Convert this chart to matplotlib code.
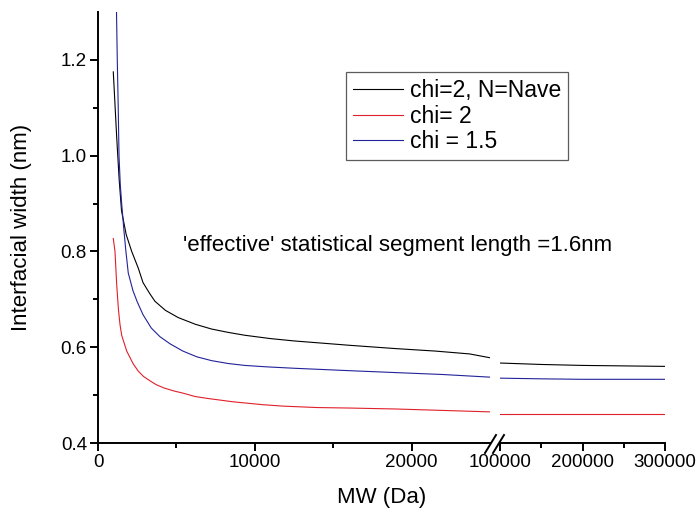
import matplotlib
matplotlib.use("Agg")
import matplotlib.pyplot as plt
from matplotlib.lines import Line2D

plt.rcParams['font.family'] = ['Liberation Sans', 'DejaVu Sans']

# Data (MW in Da, interfacial width in nm)
mw_nave_low = [975, 1190, 1350, 1500, 1800, 2150, 2570, 2870, 3300, 3630, 4300, 5110,
               6200, 7240, 8300, 9360, 11000, 12550, 14500, 16050, 19040, 21500, 23700, 25000]
w_nave_low = [1.175, 1.04, 0.95, 0.885, 0.835, 0.80, 0.765, 0.735, 0.712, 0.696, 0.677, 0.662,
              0.648, 0.638, 0.631, 0.625, 0.618, 0.613, 0.608, 0.604, 0.597, 0.592, 0.586, 0.578]

mw_chi2_low = [975, 1083, 1190, 1300, 1400, 1510, 1830, 2250, 2570, 2900, 3310, 3700, 4200,
               4800, 5430, 6200, 7000, 8620, 10500, 11800, 14000, 16050, 19000, 22000, 25000]
w_chi2_low = [0.827, 0.80, 0.732, 0.68, 0.648, 0.625, 0.592, 0.565, 0.550, 0.539, 0.530, 0.522,
              0.515, 0.509, 0.504, 0.497, 0.493, 0.486, 0.480, 0.477, 0.474, 0.473, 0.471,
              0.468, 0.465]

mw_chi15_low = [1180, 1230, 1290, 1340, 1420, 1510, 1650, 1780, 1930, 2230, 2500, 2870, 3400,
                3950, 4600, 5410, 6300, 7240, 8300, 9360, 10760, 12550, 16050, 19000, 22000,
                25000]
w_chi15_low = [1.30, 1.20, 1.10, 1.00, 0.94, 0.90, 0.845, 0.80, 0.755, 0.718, 0.695, 0.668,
               0.640, 0.622, 0.607, 0.592, 0.580, 0.572, 0.566, 0.562, 0.559, 0.556, 0.551,
               0.547, 0.543, 0.5375]

mw_high = [100000, 150000, 200000, 250000, 300000]
w_nave_high = [0.567, 0.564, 0.562, 0.561, 0.560]
w_chi2_high = [0.4615, 0.4615, 0.4615, 0.4615, 0.4615]
w_chi15_high = [0.5354, 0.534, 0.533, 0.533, 0.533]

labels = ["chi=2, N=Nave", "chi= 2", "chi = 1.5"]
colors = ["black", "#e0202a", "#22229a"]

fig = plt.figure(figsize=(6.96, 5.16), dpi=100)
W, H = 696.0, 516.0
bottom = (H - 443) / H
height = (443 - 12) / H
ax1 = fig.add_axes([98 / W, bottom, (490 - 98) / W, height])
ax2 = fig.add_axes([500 / W, bottom, (665 - 500) / W, height])

lw = 0.8
ax1.plot(mw_nave_low, w_nave_low, color=colors[0], lw=lw)
ax1.plot(mw_chi2_low, w_chi2_low, color=colors[1], lw=lw)
ax1.plot(mw_chi15_low, w_chi15_low, color=colors[2], lw=lw)
ax2.plot(mw_high, w_nave_high, color=colors[0], lw=lw)
ax2.plot(mw_high, w_chi2_high, color=colors[1], lw=lw)
ax2.plot(mw_high, w_chi15_high, color=colors[2], lw=lw)

for ax in (ax1, ax2):
    ax.set_ylim(0.4, 1.3)
    ax.spines['top'].set_visible(False)
    ax.spines['right'].set_visible(False)
    ax.spines['bottom'].set_linewidth(1.4)
    ax.spines['left'].set_linewidth(1.4)
    ax.tick_params(which='major', direction='out', length=6, width=1.4,
                   labelsize=13.5, pad=2)
    ax.tick_params(which='minor', direction='out', length=3.5, width=1.4)

ax1.set_xlim(0, 25000)
ax1.set_xticks([0, 10000, 20000])
ax1.set_xticks([5000, 15000], minor=True)
ax1.set_yticks([0.4, 0.6, 0.8, 1.0, 1.2])
ax1.set_yticklabels(["0.4", "0.6", "0.8", "1.0", "1.2"])
ax1.set_yticks([0.5, 0.7, 0.9, 1.1], minor=True)

ax2.set_xlim(100000, 300000)
ax2.set_xticks([100000, 200000, 300000])
ax2.set_xticks([150000, 250000], minor=True)
ax2.spines['left'].set_visible(False)
ax2.tick_params(axis='y', which='both', left=False, labelleft=False)

# break marks
for x0 in (485, 493):
    fig.add_artist(Line2D([x0 / W, (x0 + 11) / W], [(H - 453) / H, (H - 435) / H],
                          color='black', lw=1.4))

handles = [Line2D([], [], color=c, lw=0.8) for c in colors]
leg = fig.legend(handles, labels, loc='upper left',
                 bbox_to_anchor=(346 / W, 1 - 72 / H), fontsize=16.5,
                 frameon=True, fancybox=False, handlelength=2.2,
                 handletextpad=0.3, labelspacing=0.12, borderpad=0.3,
                 borderaxespad=0)
leg.get_frame().set_edgecolor('#333333')
leg.get_frame().set_linewidth(0.9)

fig.text(183 / W, 1 - 245 / H, "'effective' statistical segment length =1.6nm",
         fontsize=16, ha='left', va='center')
fig.text(381.5 / W, 1 - 498 / H, "MW (Da)", fontsize=16, ha='center', va='center')
fig.text(22 / W, 1 - 227.5 / H, "Interfacial width (nm)", fontsize=16,
         rotation=90, ha='center', va='center')

fig.savefig("out.png", dpi=100)
